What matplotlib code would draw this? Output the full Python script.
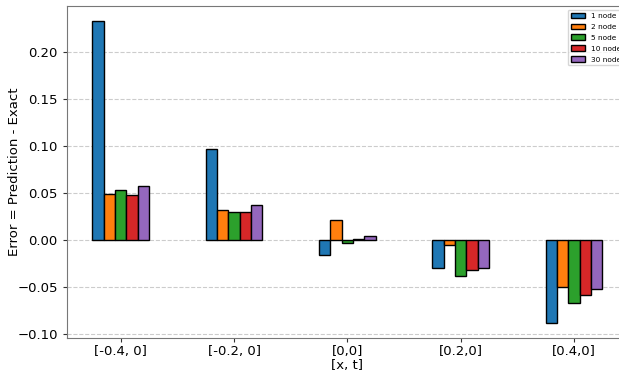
import matplotlib
matplotlib.use("Agg")
import matplotlib.pyplot as plt
import numpy as np

categories = ["[-0.4, 0]", "[-0.2, 0]", "[0,0]", "[0.2,0]", "[0.4,0]"]
series_labels = ["1 node", "2 node", "5 node", "10 node", "30 node"]
node1 = [0.233, 0.097, -0.016, -0.029, -0.088]
node2 = [0.049, 0.032, 0.021, -0.005, -0.050]
node5 = [0.053, 0.030, -0.003, -0.038, -0.067]
node10 = [0.048, 0.030, 0.0015, -0.032, -0.058]
node30 = [0.058, 0.037, 0.005, -0.029, -0.052]
series = [node1, node2, node5, node10, node30]
colors = ["#1f77b4", "#ff7f0e", "#2ca02c", "#d62728", "#9467bd"]

fig = plt.figure(figsize=(6.19, 3.74), dpi=100)
ax = fig.add_axes([0.108, 0.096, 1.0145 - 0.108, 0.984 - 0.096])

x = np.arange(len(categories))
w = 0.1
for i, (vals, lab, c) in enumerate(zip(series, series_labels, colors)):
    ax.bar(x + (i - 2) * w, vals, width=w, color=c, edgecolor="black",
           linewidth=1, label=lab, zorder=3)

ax.set_xticks(x)
ax.set_xticklabels(categories, fontsize=9.5)
ax.set_xlabel("[x, t]", fontsize=9.5)
ax.xaxis.set_label_coords(0.5, -0.063)
ax.set_ylabel("Error = Prediction - Exact", fontsize=9.5)
ax.yaxis.set_label_coords(-0.082, 0.5)
ax.set_ylim(-0.104, 0.249)
ax.set_yticks([-0.10, -0.05, 0.0, 0.05, 0.10, 0.15, 0.20])
ax.tick_params(axis="both", labelsize=9.5, colors="#333333", labelcolor="black",
               length=3)
ax.tick_params(axis="x", pad=2)
ax.yaxis.grid(True, linestyle="--", color="#cccccc", linewidth=0.8, zorder=0)
for s in ax.spines.values():
    s.set_color("#777777")
ax.legend(loc="upper right", fontsize=5.3, labelspacing=0.65)

fig.savefig("out.png", dpi=100)
